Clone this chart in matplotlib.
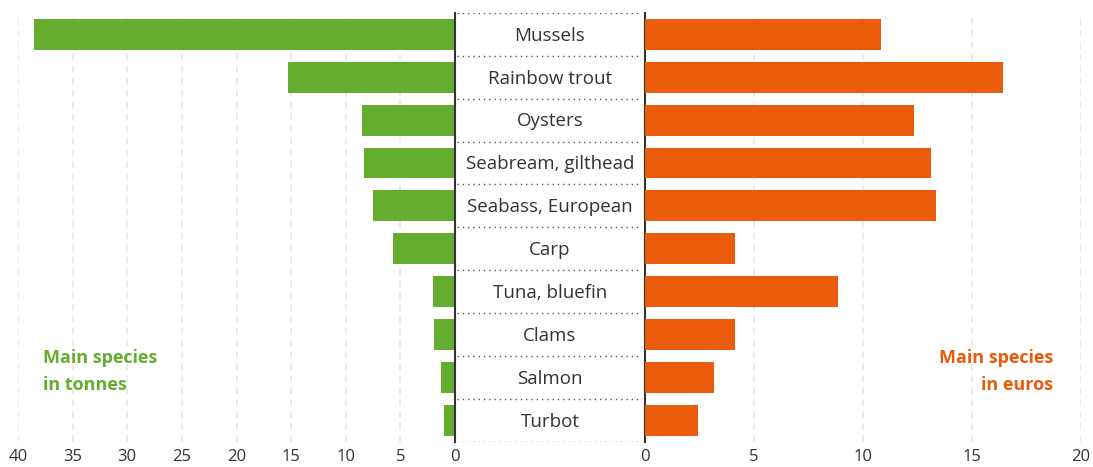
import matplotlib
matplotlib.use("Agg")
import matplotlib.pyplot as plt

# Main aquaculture species: volume (tonnes, left) and value (euros, right)
species = ["Mussels", "Rainbow trout", "Oysters", "Seabream, gilthead",
           "Seabass, European", "Carp", "Tuna, bluefin", "Clams", "Salmon", "Turbot"]
tonnes = [38.5, 15.3, 8.5, 8.3, 7.5, 5.7, 2.0, 1.9, 1.3, 1.0]
euros = [10.85, 16.45, 12.35, 13.15, 13.35, 4.15, 8.85, 4.15, 3.15, 2.45]

left_ticks = [40, 35, 30, 25, 20, 15, 10, 5, 0]
right_ticks = [0, 5, 10, 15, 20]

GREEN = "#64ad2f"
ORANGE = "#ea5b0c"
TEXT = "#333333"
GRID = "#e6e6e6"

plt.rcParams["font.family"] = ["Open Sans", "DejaVu Sans"]

W, H = 1093, 467
fig = plt.figure(figsize=(W / 100, H / 100), dpi=100)

top_px, bot_px = 13, 441.7
bottom = 1 - bot_px / H
height = (bot_px - top_px) / H

x_left0, x_zero_l, x_zero_r, x_right1 = 18, 455, 645, 1080.7

axL = fig.add_axes([x_left0 / W, bottom, (x_zero_l - x_left0) / W, height])
axC = fig.add_axes([x_zero_l / W, bottom, (x_zero_r - x_zero_l) / W, height])
axR = fig.add_axes([x_zero_r / W, bottom, (x_right1 - x_zero_r) / W, height])

n = len(species)
ypos = list(range(n))
bar_h = 0.72
dash = (0, (4.5, 3.3))

for ax, ticks, lim in ((axL, left_ticks, (40, 0)), (axR, right_ticks, (0, 20))):
    ax.set_xlim(*lim)
    ax.set_ylim(n - 0.5, -0.5)
    for t in ticks:
        if t != 0:
            ax.axvline(t, color=GRID, lw=1.1, linestyle=dash, zorder=0)
    ax.set_xticks(ticks)
    ax.set_xticklabels([str(t) for t in ticks])
    ax.tick_params(axis="x", length=0, pad=5, labelsize=12, labelcolor=TEXT)
    ax.set_yticks([])
    for s in ax.spines.values():
        s.set_visible(False)
    ax.patch.set_alpha(0)

axL.barh(ypos, tonnes, height=bar_h, color=GREEN, zorder=2)
axR.barh(ypos, euros, height=bar_h, color=ORANGE, zorder=2)

# Centre column with species names
axC.set_xlim(0, 1)
axC.set_ylim(n - 0.5, -0.5)
axC.set_xticks([])
axC.set_yticks([])
for side in ("top", "bottom"):
    axC.spines[side].set_visible(False)
for side in ("left", "right"):
    axC.spines[side].set_color(TEXT)
    axC.spines[side].set_linewidth(1.5)
for k in range(n + 1):
    axC.axhline(k - 0.5, xmin=0.01, xmax=0.98, color="#555555", lw=1.0,
                linestyle=(0, (1, 2.8)))
for i, name in enumerate(species):
    axC.text(0.5, i + 0.03, name, ha="center", va="center", fontsize=13.5, color=TEXT)

# Side captions
fig.text(43 / W, 1 - 363 / H, "Main species", ha="left", va="baseline",
         fontsize=13, fontweight="bold", color=GREEN)
fig.text(43 / W, 1 - 390 / H, "in tonnes", ha="left", va="baseline",
         fontsize=13, fontweight="bold", color=GREEN)
fig.text(1053 / W, 1 - 363 / H, "Main species", ha="right", va="baseline",
         fontsize=13, fontweight="bold", color=ORANGE)
fig.text(1053 / W, 1 - 390 / H, "in euros", ha="right", va="baseline",
         fontsize=13, fontweight="bold", color=ORANGE)

fig.savefig("out.png", dpi=100)
